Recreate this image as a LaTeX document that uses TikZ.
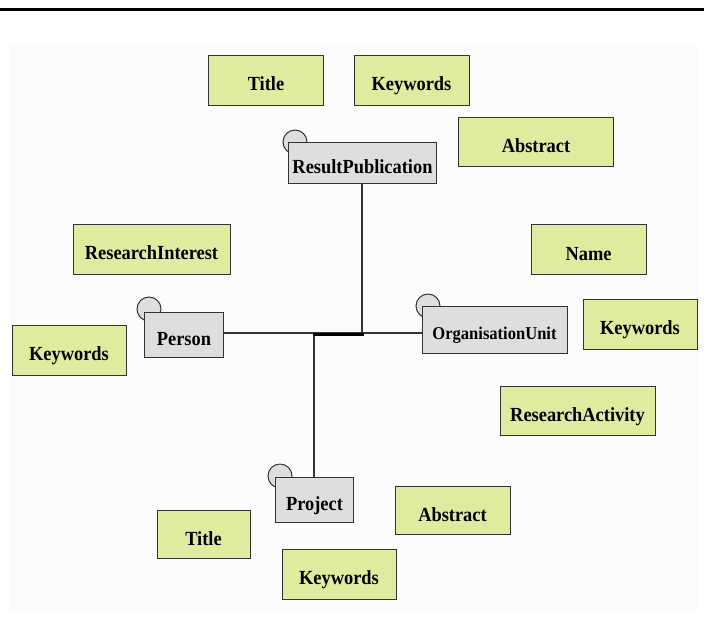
\documentclass[tikz,border=0pt]{standalone}
\usepackage{fontspec}
\setmainfont{Liberation Serif}
\newfontfamily\boxfont[FakeStretch=0.92]{Liberation Serif}
\definecolor{attrfill}{HTML}{E0EBA0}
\definecolor{entfill}{HTML}{DEDEDE}
\definecolor{edge}{HTML}{333333}
\definecolor{panel}{HTML}{FCFCFC}
\tikzset{
  labeltext/.style={inner sep=0pt, text height=21pt, text depth=0pt,
    font=\boxfont\bfseries\fontsize{20}{22}\selectfont},
  attr/.style={labeltext, draw=edge, line width=1pt, fill=attrfill},
  entity/.style={labeltext, draw=edge, line width=1pt, fill=entfill},
  knob/.style={draw=edge, line width=1pt, fill=entfill},
  link/.style={draw=edge, line width=1.2pt},
  trunk/.style={draw=black, line width=3pt},
}
\begin{document}
\begin{tikzpicture}[x=1pt, y=-1pt]
\useasboundingbox (0,0) rectangle (704,641);
% page background and header rule
\fill[white] (0,0) rectangle (704,641);
\fill[panel] (10,45) rectangle (698,613);
\draw[black, line width=3pt] (0,9.5) -- (704,9.5);

% attribute boxes
\node[attr, minimum width=115pt, minimum height=50pt] (titleA) at (266,80) {Title};
\node[attr, minimum width=115pt, minimum height=50pt] (keyA) at (411.5,80) {Keywords};
\node[attr, minimum width=155pt, minimum height=49pt] (absA) at (536,142) {Abstract};
\node[attr, minimum width=157pt, minimum height=50pt] (resint) at (151.5,249) {ResearchInterest};
\node[attr, minimum width=115pt, minimum height=50pt] (nameO) at (588.5,249.5) {Name};
\node[attr, minimum width=114pt, minimum height=50pt] (keyO) at (640,324) {Keywords};
\node[attr, minimum width=114pt, minimum height=50pt] (keyP) at (69,350) {Keywords};
\node[attr, minimum width=155pt, minimum height=49pt] (resact) at (577.5,410.5) {ResearchActivity};
\node[attr, minimum width=115pt, minimum height=48pt] (absJ) at (452.5,510.5) {Abstract};
\node[attr, minimum width=93pt, minimum height=48pt] (titleJ) at (203.5,534.5) {Title};
\node[attr, minimum width=114pt, minimum height=50pt] (keyJ) at (339,574) {Keywords};

% entity knobs (drawn first so the boxes overlap them)
\draw[knob] (295,142) circle (12pt);
\draw[knob] (149,309) circle (12pt);
\draw[knob] (428,306) circle (12pt);
\draw[knob] (280,476) circle (12pt);

% entity boxes
\node[entity, minimum width=148pt, minimum height=41pt] (pub) at (362.5,162.5) {ResultPublication};
\node[entity, minimum width=79pt, minimum height=45pt] (person) at (184,334.5) {Person};
\node[entity, minimum width=145pt, minimum height=47pt, text height=19pt,
      font=\boxfont\bfseries\fontsize{18}{20}\selectfont] (org) at (494.5,330) {OrganisationUnit};
\node[entity, minimum width=78pt, minimum height=45pt] (proj) at (314.5,500) {Project};

% connectors
\coordinate (hubR) at (362,334);
\coordinate (hubL) at (314,334);
\draw[link] (person.east |- 0,333) -- (org.west |- 0,333);
\draw[link] (pub.south -| hubR) -- (hubR);
\draw[link] (hubL) -- (proj.north -| hubL);
\draw[trunk, line cap=rect] (hubL) -- (hubR);
\end{tikzpicture}
\end{document}
